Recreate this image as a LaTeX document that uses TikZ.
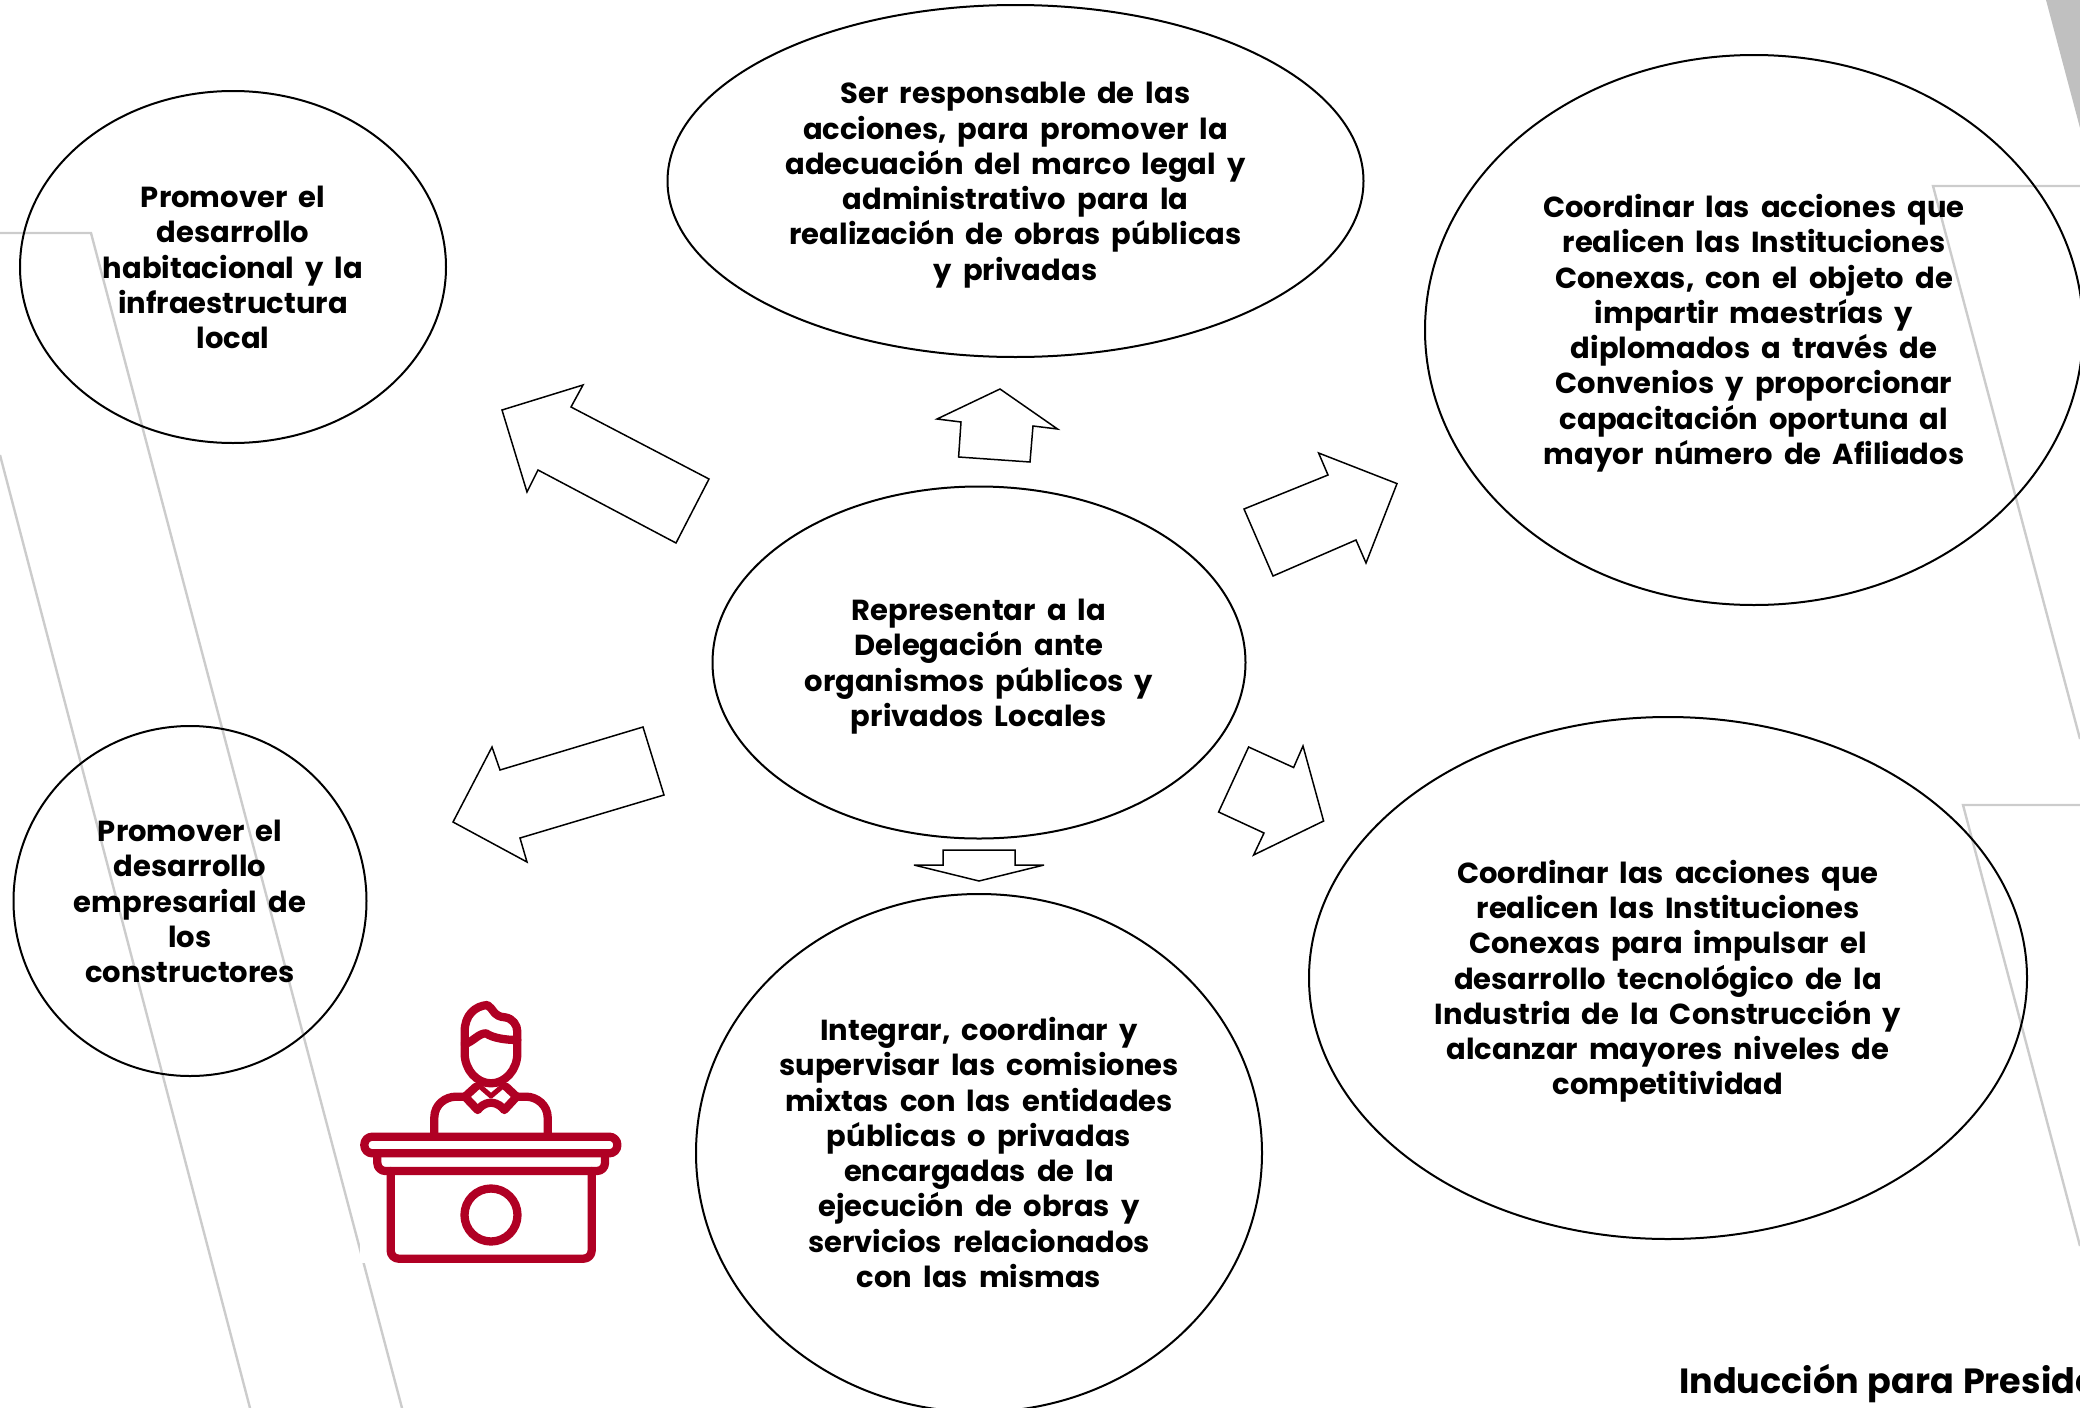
\documentclass[tikz,border=0pt]{standalone}
\usepackage{fontspec}
\setmainfont{Poppins}[WordSpace=1.8]
\newfontfamily\footfont{Poppins}[WordSpace=1.2]
\usetikzlibrary{shapes.geometric}
\definecolor{bgline}{HTML}{CCCCCC}
\definecolor{bgfill}{HTML}{C0C0C0}
\definecolor{iconred}{HTML}{B00024}
\newcommand{\firstln}{\rule{0pt}{30pt}}
\newcommand{\lastln}{\rule[-8pt]{0pt}{8pt}}
\tikzset{
  bub/.style={ellipse,draw=black,line width=2pt,inner ysep=0pt,inner xsep=-20pt,align=center,
    font=\fontsize{29}{35.3}\selectfont\bfseries},
  barrow/.style={draw=black,line width=1.5pt,line join=miter,miter limit=8},
  bgl/.style={draw=bgline,line width=2.4pt},
  ico/.style={draw=iconred,line width=8.3pt,line join=round,line cap=round}
}
\begin{document}
\begin{tikzpicture}[x=1pt,y=-1pt]
\useasboundingbox (0,0) rectangle (2080,1408);
\clip (0,0) rectangle (2080,1408);
% background lines
\fill[bgfill] (2046,0) -- (2080,0) -- (2080,128) -- cycle;
\draw[bgl] (0,233) -- (91,233) -- (402,1408);
\draw[bgl] (0,455) -- (250,1408);
\draw[bgl] (2080,186) -- (1933,186) -- (2080,739);
\draw[bgl] (2080,805) -- (1963,805) -- (2080,1246);
\fill[white] (360,1000) rectangle (625,1263);
% ellipses
\node[bub,minimum width=696pt,minimum height=352pt] (top) at (1015.5,181) {\firstln Ser responsable de las\\acciones, para promover la\\adecuación del marco legal y\\administrativo para la\\realización de obras públicas\\y privadas\lastln};
\node[bub,minimum width=426pt,minimum height=352pt] (left) at (233,267) {\firstln Promover el\\desarrollo\\habitacional y la\\infraestructura\\local\lastln};
\node[bub,minimum width=658pt,minimum height=550pt] (right) at (1754,330) {\firstln Coordinar las acciones que\\realicen las Instituciones\\Conexas, con el objeto de\\impartir maestrías y\\diplomados a través de\\Convenios y proporcionar\\capacitación oportuna al\\mayor número de Afiliados\lastln};
\node[bub,minimum width=533pt,minimum height=352pt] (center) at (979,662.5) {\firstln Representar a la\\Delegación ante\\organismos públicos y\\privados Locales\lastln};
\node[bub,minimum width=353pt,minimum height=350pt] (lowleft) at (190,901) {\firstln Promover el\\desarrollo\\empresarial de\\los\\constructores\lastln};
\node[bub,minimum width=566pt,minimum height=518pt] (bottom) at (979,1153) {\firstln Integrar, coordinar y\\supervisar las comisiones\\mixtas con las entidades\\públicas o privadas\\encargadas de la\\ejecución de obras y\\servicios relacionados\\con las mismas\lastln};
\node[bub,minimum width=718pt,minimum height=522pt] (lowright) at (1668,978) {\firstln Coordinar las acciones que\\realicen las Instituciones\\Conexas para impulsar el\\desarrollo tecnológico de la\\Industria de la Construcción y\\alcanzar mayores niveles de\\competitividad\lastln};
% block arrows
\draw[barrow] (958.6,457) -- (961,422) -- (937,419) -- (1000,389) -- (1057.5,429) -- (1033,426) -- (1030,462) -- cycle;
\draw[barrow] (1244,509) -- (1328,475) -- (1318.6,453) -- (1397,483.6) -- (1366,563) -- (1356,540) -- (1273,576) -- cycle;
\draw[barrow] (1248.6,747) -- (1293.6,767.5) -- (1303,746) -- (1323.6,821) -- (1253.6,855) -- (1264,833) -- (1218.6,812) -- cycle;
\draw[barrow] (943,850) -- (1015,850) -- (1015,865) -- (1044,865) -- (979,881) -- (914,865) -- (943,865) -- cycle;
\draw[barrow] (709,479) -- (676,543) -- (538,470) -- (527,492) -- (502,410) -- (583,385) -- (571,407) -- cycle;
\draw[barrow] (643,727) -- (664,795) -- (520,838) -- (527,862) -- (453,822) -- (492,747) -- (500,770) -- cycle;
% icon
\begin{scope}[shift={(330,960)},x=.33333pt,y=-.33333pt]
\draw[ico,rounded corners=8pt] (103,530) rectangle (862,580);
\draw[ico,rounded corners=8pt] (142,580) -- (142,633) -- (825,633) -- (825,580);
\draw[ico,rounded corners=8pt] (182,633) -- (182,896) -- (785,896) -- (785,633);
\draw[ico] (483,765) circle [radius=79.5];
\draw[ico] (313,525) -- (313,472) .. controls (313,435) and (345,410) .. (378,410) -- (405,410);
\draw[ico] (653,525) -- (653,472) .. controls (653,435) and (620,410) .. (588,410) -- (560,410);
\draw[ico] (404,280) -- (404,215) .. controls (404,165) and (435,138) .. (472,135)
  .. controls (490,145) and (490,170) .. (525,172)
  .. controls (548,175) and (562,195) .. (562,215) -- (562,280)
  .. controls (562,330) and (525,370) .. (483,370)
  .. controls (441,370) and (404,330) .. (404,280);
\draw[ico] (404,252) .. controls (430,245) and (445,220) .. (468,220)
  .. controls (490,235) and (530,240) .. (562,240);
\draw[ico] (438,380) -- (405,410) -- (443,450) .. controls (452,440) and (460,430) .. (483,428)
  .. controls (506,430) and (514,440) .. (523,450) -- (560,410) -- (528,380);
\draw[ico,line width=5pt] (445,375) -- (483,408) -- (522,375);
\end{scope}
% footer
\node[anchor=base west,inner sep=0pt,font=\footfont\fontsize{35}{40}\selectfont\bfseries] (footer) at (1679,1393) {Inducción para Preside};
\end{tikzpicture}
\end{document}
